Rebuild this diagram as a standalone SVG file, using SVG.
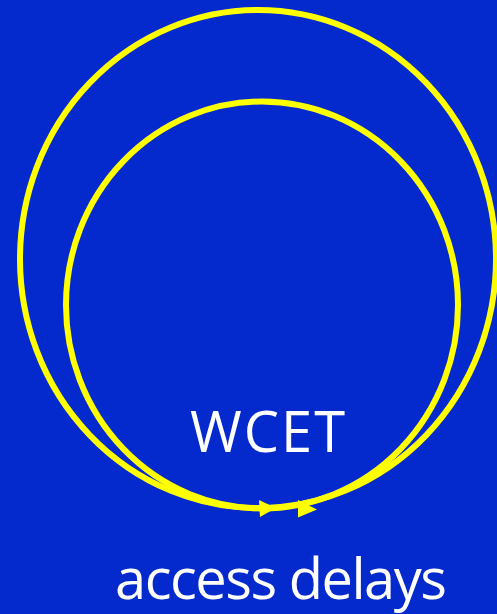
<svg xmlns="http://www.w3.org/2000/svg" width="497" height="614" viewBox="0 0 497 614">
<style>
.loop{fill:none;stroke:#FFFF00;stroke-width:6}
.head{fill:#FFFF00}
.lbl{fill:#FFFFFF;font-family:"Comic Sans MS","Open Sans","DejaVu Sans",sans-serif;font-size:56px}
</style>
<rect x="0" y="0" width="497" height="614" fill="#0429CD"/>
<g id="connectors">
<ellipse class="loop" cx="258" cy="259" rx="238" ry="249"/>
<ellipse class="loop" cx="262" cy="305" rx="196" ry="203.5"/>
<polygon class="head" points="259,500 276,508 260,517"/>
<polygon class="head" points="298,500 317,509.5 298,517.5"/>
</g>
<g id="wcet">
<text class="lbl" x="190" y="452" textLength="155">WCET</text>
</g>
<g id="access-delays">
<text class="lbl" x="115" y="599" textLength="332">access delays</text>
</g>
</svg>
